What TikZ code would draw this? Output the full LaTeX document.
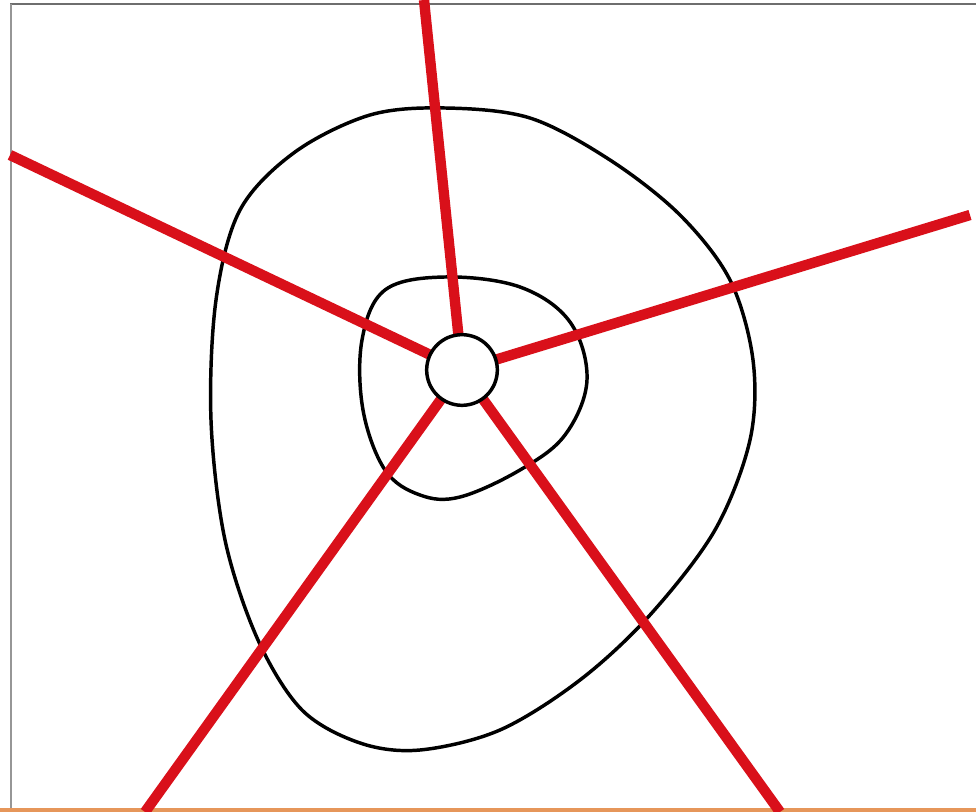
\documentclass[tikz,border=0pt]{standalone}
\begin{document}
\begin{tikzpicture}[x=0.75pt,y=-0.75pt,
  redline/.style={draw={rgb,255:red,217;green,16;blue,26}, line width=7.8pt},
  blob/.style={draw=black, line width=2.6pt},
  frameline/.style={draw={rgb,255:red,110;green,110;blue,110}, line width=1.5pt}]
\useasboundingbox (0,0) rectangle (976,812);
\fill[white] (0,0) rectangle (976,812);
\draw[frameline] (10,4) -- (976,4);
\draw[frameline, draw={rgb,255:red,150;green,150;blue,150}] (11,4) -- (11,812);
\draw[draw={rgb,255:red,230;green,150;blue,90}, line width=3pt] (0,810.5) -- (976,810.5);
% blobs
\draw[blob] plot[smooth cycle, tension=0.55] coordinates {(445,108) (370,115) (295,152) (240,210) (216,300) (211,420) (225,540) (258,640) (302,710) (360,743) (420,750) (500,730) (580,680) (650,615) (715,530) (750,440) (753,360) (730,280) (680,215) (610,160) (530,118)};
\draw[blob] plot[smooth cycle, tension=0.6] coordinates {(445,277) (385,290) (362,340) (363,410) (385,470) (420,495) (460,497) (520,470) (565,435) (587,380) (570,322) (520,287)};
% center
\coordinate (c) at (462,370);
\coordinate (e1) at (424,0);
\coordinate (e2) at (10,155);
\coordinate (e3) at (970,215);
\coordinate (e4) at (145,812);
\coordinate (e5) at (780,812);
\foreach \e in {e1,e2,e3,e4,e5} \draw[redline] (c) -- (\e);
\node[circle, draw=black, fill=white, line width=2.6pt, minimum size=53pt, inner sep=0pt] (hub) at (c) {};
\end{tikzpicture}
\end{document}
